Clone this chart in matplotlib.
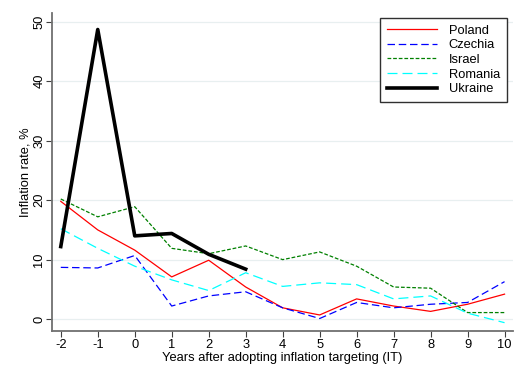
import numpy as np
import matplotlib.pyplot as plt

plt.rcParams['font.family'] = ['Liberation Sans', 'DejaVu Sans']
plt.rcParams['axes.unicode_minus'] = False

# Data
years = [-2, -1, 0, 1, 2, 3, 4, 5, 6, 7, 8, 9, 10]
poland = [19.8, 15.0, 11.6, 7.1, 9.9, 5.4, 1.9, 0.7, 3.4, 2.2, 1.3, 2.5, 4.2]
czechia = [8.7, 8.6, 10.7, 2.2, 3.9, 4.6, 1.9, 0.1, 2.8, 1.9, 2.5, 2.8, 6.3]
israel = [20.2, 17.2, 18.9, 11.9, 11.0, 12.3, 10.0, 11.3, 8.9, 5.4, 5.2, 1.1, 1.1]
romania = [15.2, 11.9, 8.9, 6.6, 4.8, 7.8, 5.5, 6.1, 5.8, 3.4, 3.9, 1.0, -0.6]
ukraine_years = [-2, -1, 0, 1, 2, 3]
ukraine = [12.2, 48.7, 14.0, 14.4, 10.9, 8.4]

fig = plt.figure(figsize=(5.28, 3.84), dpi=100)
ax = fig.add_axes([0.099, 0.138, 0.872, 0.827])

ax.plot(years, poland, color='red', lw=0.9, label='Poland')
ax.plot(years, czechia, color='blue', lw=0.9, dashes=(6, 3), label='Czechia')
ax.plot(years, israel, color='green', lw=0.9, dashes=(3, 1.5), label='Israel')
ax.plot(years, romania, color='cyan', lw=0.9, dashes=(8, 4), label='Romania')
ax.plot(ukraine_years, ukraine, color='black', lw=2.6, label='Ukraine')

ax.set_xlim(-2.23, 10.22)
ax.set_ylim(-2.0, 51.4)
ax.set_xticks(years)
ax.set_yticks([0, 10, 20, 30, 40, 50])
ax.set_yticklabels(['0', '10', '20', '30', '40', '50'], rotation=90, va='center')
ax.grid(axis='y', color='#e8eff0', lw=0.9)
ax.set_axisbelow(True)

for s in ['top', 'right']:
    ax.spines[s].set_visible(False)
for s in ['left', 'bottom']:
    ax.spines[s].set_color('#707070')
    ax.spines[s].set_linewidth(1.3)
ax.tick_params(labelsize=9.3, color='#404040', length=4)
ax.tick_params(axis='y', pad=1)
ax.tick_params(axis='x', pad=1.5)

ax.set_xlabel('Years after adopting inflation targeting (IT)', fontsize=9.3, labelpad=1)
ax.set_ylabel('Inflation rate, %', fontsize=9.3, labelpad=1)

leg = ax.legend(loc='upper right', fontsize=9.3, fancybox=False, framealpha=1,
                edgecolor='#303030', handlelength=3.9, handletextpad=0.9,
                labelspacing=0.2, borderpad=0.55, borderaxespad=0,
                bbox_to_anchor=(0.988, 0.987))
leg.get_frame().set_linewidth(1.0)

fig.savefig('out.png', dpi=100)
